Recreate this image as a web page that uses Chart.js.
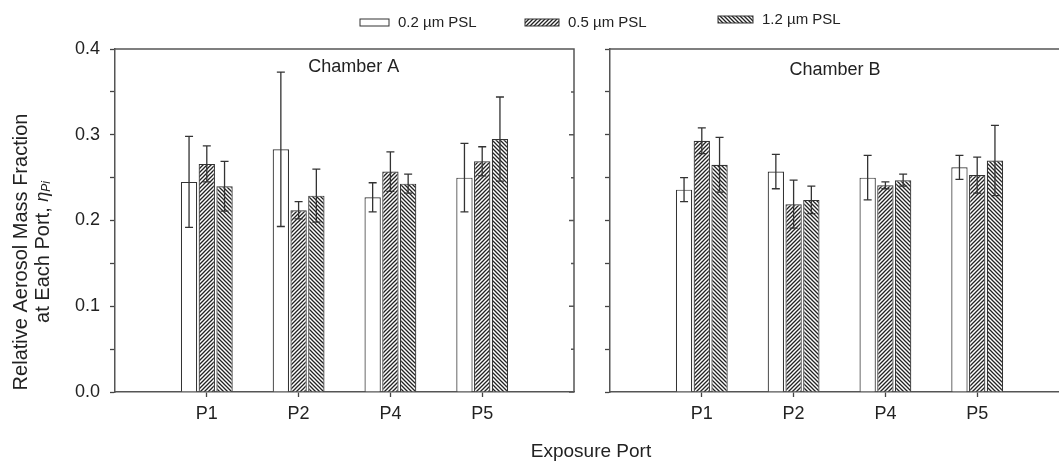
<!DOCTYPE html>
<html>
<head>
<meta charset="utf-8">
<script src="https://cdn.jsdelivr.net/npm/chart.js@4/dist/chart.umd.min.js"></script>
<style>
  body { margin: 0; width: 1059px; height: 462px; overflow: hidden; background: #fff; }
  canvas { position: absolute; left: 0; top: 0; }
</style>
</head>
<body>
<canvas id="chamberA" width="1059" height="462"></canvas>
<canvas id="chamberB" width="1080" height="462"></canvas>
<script>
const ports = ['P1', 'P2', 'P4', 'P5'];
const sizes = ['0.2 µm PSL', '0.5 µm PSL', '1.2 µm PSL'];
const yTicks = ['0.0', '0.1', '0.2', '0.3', '0.4'];

// chamber A, mean and error per port
const chamberA_02 = [0.245, 0.283, 0.227, 0.250];
const chamberA_05 = [0.266, 0.212, 0.257, 0.269];
const chamberA_12 = [0.240, 0.229, 0.243, 0.295];
const errA_02 = [0.053, 0.090, 0.017, 0.040];
const errA_05 = [0.021, 0.010, 0.023, 0.017];
const errA_12 = [0.029, 0.031, 0.011, 0.049];

// chamber B
const chamberB_02 = [0.236, 0.257, 0.250, 0.262];
const chamberB_05 = [0.293, 0.219, 0.241, 0.253];
const chamberB_12 = [0.265, 0.224, 0.247, 0.270];
const errB_02 = [0.014, 0.020, 0.026, 0.014];
const errB_05 = [0.015, 0.028, 0.004, 0.021];
const errB_12 = [0.032, 0.016, 0.007, 0.041];

const FONT = '"Liberation Sans", Arial, sans-serif';
const INK = '#333';

function hatch(dir) {
  const c = document.createElement('canvas');
  c.width = c.height = 4;
  const g = c.getContext('2d');
  g.fillStyle = '#fff';
  g.fillRect(0, 0, 4, 4);
  g.strokeStyle = '#222';
  g.lineWidth = 1.3;
  g.beginPath();
  if (dir > 0) {
    g.moveTo(-1, 5); g.lineTo(5, -1);
    g.moveTo(-1, 1); g.lineTo(1, -1);
    g.moveTo(3, 5); g.lineTo(5, 3);
  } else {
    g.moveTo(-1, -1); g.lineTo(5, 5);
    g.moveTo(-1, 3); g.lineTo(1, 5);
    g.moveTo(3, -1); g.lineTo(5, 1);
  }
  g.stroke();
  return g.createPattern(c, 'repeat');
}
const fills = ['#fff', hatch(1), hatch(-1)];

// error bars, panel frame, panel title, and (on the first chart) legend + axis titles
const extras = {
  id: 'extras',
  afterDatasetsDraw(chart, args, opts) {
    const ctx = chart.ctx;
    const y = chart.scales.y;
    const a = chart.chartArea;
    ctx.save();
    ctx.strokeStyle = INK;
    ctx.lineWidth = 1.3;
    chart.data.datasets.forEach((ds, i) => {
      chart.getDatasetMeta(i).data.forEach((bar, j) => {
        const v = ds.data[j], e = ds.errors[j];
        if (v == null) return;
        const top = y.getPixelForValue(v + e), bot = y.getPixelForValue(v - e);
        ctx.beginPath();
        ctx.moveTo(bar.x, top); ctx.lineTo(bar.x, bot);
        ctx.moveTo(bar.x - 4, top); ctx.lineTo(bar.x + 4, top);
        ctx.moveTo(bar.x - 4, bot); ctx.lineTo(bar.x + 4, bot);
        ctx.stroke();
      });
    });

    // frame top + right, inward ticks on the right edge
    ctx.strokeStyle = '#555';
    ctx.lineWidth = 1.5;
    ctx.beginPath();
    ctx.moveTo(a.left - 1, a.top); ctx.lineTo(a.right, a.top); ctx.lineTo(a.right, a.bottom);
    y.ticks.forEach((t, k) => {
      const py = y.getPixelForValue(t.value);
      ctx.moveTo(a.right, py); ctx.lineTo(a.right - (k % 2 ? 3 : 5), py);
    });
    ctx.stroke();

    ctx.fillStyle = '#222';
    ctx.textAlign = 'center';
    ctx.textBaseline = 'middle';
    ctx.font = '18px ' + FONT;
    ctx.fillText(opts.title, a.left + (a.right - a.left) * opts.titleX, a.top + opts.titleY);

    if (opts.outer) {
      // legend
      const lx = [[360, 398], [525, 568], [718, 762]];
      const ly = [23, 23, 20];
      ctx.textAlign = 'left';
      ctx.font = '15px ' + FONT;
      sizes.forEach((s, k) => {
        ctx.fillStyle = fills[k];
        ctx.fillRect(lx[k][0], ly[k] - 4, lx[k][1] - lx[k][0] - 9, 7);
        ctx.strokeStyle = INK;
        ctx.lineWidth = 1;
        ctx.strokeRect(lx[k][0], ly[k] - 4, lx[k][1] - lx[k][0] - 9, 7);
        ctx.fillStyle = '#222';
        ctx.fillText(s, lx[k][1], ly[k]);
      });

      // x title
      ctx.textAlign = 'center';
      ctx.font = '19px ' + FONT;
      ctx.fillText('Exposure Port', 591, 452);

      // y title, two lines with subscript
      ctx.translate(21, 252);
      ctx.rotate(-Math.PI / 2);
      ctx.font = '20px ' + FONT;
      ctx.fillText('Relative Aerosol Mass Fraction', 0, 0);
      const p1 = 'at Each Port, ';
      const w1 = ctx.measureText(p1).width;
      ctx.font = 'italic 18px ' + FONT;
      const w2 = ctx.measureText('η').width;
      ctx.font = 'italic 12px ' + FONT;
      const w3 = ctx.measureText('Pi').width;
      let x0 = -(w1 + w2 + w3) / 2;
      ctx.textAlign = 'left';
      ctx.font = '20px ' + FONT;
      ctx.fillText(p1, x0, 22);
      ctx.font = 'italic 18px ' + FONT;
      ctx.fillText('η', x0 + w1, 22);
      ctx.font = 'italic 12px ' + FONT;
      ctx.fillText('Pi', x0 + w1 + w2, 26);
    }
    ctx.restore();
  }
};

function makeChart(id, series, errors, pad, yWidth, opts) {
  const edge = ctx => (ctx.index === 0 || ctx.index === ports.length + 1) ? 'rgba(0,0,0,0)' : '#444';
  return new Chart(document.getElementById(id), {
    type: 'bar',
    data: {
      labels: ['', ...ports, ''],
      datasets: sizes.map((s, k) => ({
        label: s,
        data: [null, ...series[k], null],
        errors: [null, ...errors[k], null],
        backgroundColor: fills[k],
        borderColor: INK,
        borderWidth: 1.2,
        categoryPercentage: 0.58,
        barPercentage: 0.92
      }))
    },
    options: {
      responsive: false,
      animation: false,
      layout: { padding: pad },
      plugins: { legend: { display: false }, tooltip: { enabled: false }, extras: opts },
      scales: {
        x: {
          offset: false,
          grid: { offset: false, drawOnChartArea: false, tickLength: 5, tickColor: edge, tickWidth: 1.3 },
          border: { color: '#555', width: 1.5 },
          ticks: { font: { family: FONT, size: 18 }, color: '#222', padding: 6, maxRotation: 0, autoSkip: false },
          afterFit: s => { s.height = 30; }
        },
        y: {
          min: 0, max: 0.4,
          grid: { drawOnChartArea: false, tickLength: 5, tickColor: '#444', tickWidth: 1.3 },
          border: { color: '#555', width: 1.5 },
          ticks: {
            display: opts.outer,
            stepSize: 0.05,
            font: { family: FONT, size: 18 }, color: '#222', padding: 10,
            callback: (v, i) => i % 2 ? '' : yTicks[i / 2]
          },
          afterFit: s => { s.width = yWidth; }
        }
      }
    },
    plugins: [extras]
  });
}

makeChart('chamberA',
  [chamberA_02, chamberA_05, chamberA_12], [errA_02, errA_05, errA_12],
  { left: 0, right: 485, top: 49, bottom: 40 }, 115,
  { title: 'Chamber A', titleX: 0.52, titleY: 18, outer: true });

makeChart('chamberB',
  [chamberB_02, chamberB_05, chamberB_12], [errB_02, errB_05, errB_12],
  { left: 0, right: 11, top: 49, bottom: 40 }, 610,
  { title: 'Chamber B', titleX: 0.49, titleY: 21, outer: false });
</script>
</body>
</html>
